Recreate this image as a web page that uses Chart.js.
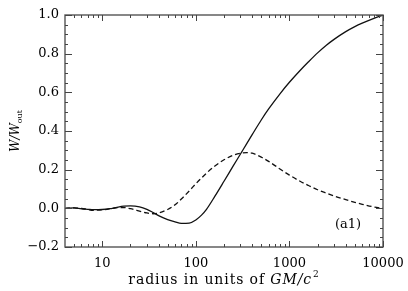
<!DOCTYPE html>
<html>
<head>
<meta charset="utf-8">
<script src="https://cdn.jsdelivr.net/npm/chart.js@4"></script>
<style>
html,body{margin:0;padding:0;background:#fff;}
#c{display:block;}
</style>
</head>
<body>
<canvas id="c" width="408" height="291"></canvas>
<script>
// Radius values (units of GM/c^2)
const radius = [4,5,6,7,8,10,12,14,17,20,25,30,35,40,50,60,70,85,100,115,130,160,200,250,300,350,400,500,600,800,1000,1300,1600,2000,2500,3000,4000,5000,6000,8000,10000];
// Solid curve W/W_out
const solidW = [0.0,0.002,-0.003,-0.005,-0.007,-0.006,-0.002,0.004,0.011,0.013,0.008,-0.005,-0.022,-0.038,-0.058,-0.07,-0.078,-0.076,-0.06,-0.035,-0.005,0.063,0.14,0.218,0.281,0.335,0.381,0.457,0.514,0.595,0.652,0.713,0.758,0.804,0.845,0.874,0.914,0.94,0.958,0.983,1.0];
// Dashed curve W/W_out
const dashedW = [0.0,0.002,0.0,-0.006,-0.01,-0.008,-0.003,0.003,0.004,-0.002,-0.014,-0.024,-0.028,-0.024,-0.006,0.018,0.048,0.09,0.127,0.157,0.182,0.219,0.251,0.274,0.285,0.288,0.285,0.265,0.243,0.202,0.172,0.14,0.118,0.096,0.078,0.064,0.045,0.031,0.021,0.007,0.0];
// Tick values
const xTickValues = [10,100,1000,10000];
const yTickValues = [-0.2,0,0.2,0.4,0.6,0.8,1.0];
const xMinorTicks = [5,6,7,8,9,20,30,40,50,60,70,80,90,200,300,400,500,600,700,800,900,2000,3000,4000,5000,6000,7000,8000,9000];
const yMinorTicks = [-0.15,-0.1,-0.05,0.05,0.1,0.15,0.25,0.3,0.35,0.45,0.5,0.55,0.65,0.7,0.75,0.85,0.9,0.95];
const panelLabel = '(a1)';

const FONT = '"DejaVu Serif", "Liberation Serif", serif';
const INK = '#000';

const framePlugin = {
  id: 'frame',
  afterDraw(chart) {
    const ctx = chart.ctx;
    const a = chart.chartArea;
    const xs = chart.scales.x, ys = chart.scales.y;
    ctx.save();
    ctx.strokeStyle = '#555';
    ctx.lineWidth = 1.4;
    ctx.strokeRect(a.left, a.top, a.right - a.left, a.bottom - a.top);
    ctx.lineWidth = 1;
    ctx.strokeStyle = '#444';
    const tick = (x1,y1,x2,y2) => { ctx.beginPath(); ctx.moveTo(x1,y1); ctx.lineTo(x2,y2); ctx.stroke(); };
    xTickValues.forEach(v => { const p = Math.round(xs.getPixelForValue(v))+0.5; tick(p,a.bottom,p,a.bottom-6); tick(p,a.top,p,a.top+6); });
    xMinorTicks.forEach(v => { const p = Math.round(xs.getPixelForValue(v))+0.5; tick(p,a.bottom,p,a.bottom-3); tick(p,a.top,p,a.top+3); });
    yTickValues.forEach(v => { const p = Math.round(ys.getPixelForValue(v))+0.5; tick(a.left,p,a.left+7,p); tick(a.right,p,a.right-7,p); });
    yMinorTicks.forEach(v => { const p = Math.round(ys.getPixelForValue(v))+0.5; tick(a.left,p,a.left+3,p); tick(a.right,p,a.right-3,p); });

    // panel label
    ctx.fillStyle = INK;
    ctx.font = '13px ' + FONT;
    ctx.textAlign = 'center';
    ctx.textBaseline = 'middle';
    ctx.fillText(panelLabel, 348, 225);

    // x title: radius in units of GM/c^2
    const cx = (a.left + a.right) / 2;
    const p1 = 'radius in units of ';
    const p2 = 'GM/c';
    const p3 = '2';
    ctx.textAlign = 'left';
    ctx.textBaseline = 'alphabetic';
    try { ctx.letterSpacing = '0.9px'; } catch (e) {}
    ctx.font = '14px ' + FONT;
    const w1 = ctx.measureText(p1).width;
    ctx.font = 'italic 14px ' + FONT;
    const w2 = ctx.measureText(p2).width;
    ctx.font = '9px ' + FONT;
    const w3 = ctx.measureText(p3).width;
    let x0 = cx - (w1 + w2 + w3 + 1) / 2;
    const base = 284;
    ctx.font = '14px ' + FONT;
    ctx.fillText(p1, x0, base);
    ctx.font = 'italic 14px ' + FONT;
    ctx.fillText(p2, x0 + w1, base);
    ctx.font = '9px ' + FONT;
    ctx.fillText(p3, x0 + w1 + w2 + 1, base - 7);
    try { ctx.letterSpacing = '0px'; } catch (e) {}

    // y title: W/W_out (rotated)
    ctx.translate(15, (a.top + a.bottom) / 2);
    ctx.rotate(-Math.PI / 2);
    ctx.font = 'italic 12px ' + FONT;
    const q1 = 'W/W';
    const wq1 = ctx.measureText(q1).width;
    ctx.font = '8px ' + FONT;
    const wq2 = ctx.measureText('out').width;
    const sx = -(wq1 + wq2) / 2;
    ctx.font = 'italic 12px ' + FONT;
    ctx.fillText(q1, sx, 4);
    ctx.font = '8px ' + FONT;
    ctx.fillText('out', sx + wq1, 7);
    ctx.restore();
  }
};

new Chart(document.getElementById('c'), {
  type: 'line',
  data: {
    datasets: [
      { data: radius.map((r,i) => ({x:r, y:solidW[i]})), borderColor: '#111', borderWidth: 1.3, pointRadius: 0, cubicInterpolationMode: 'monotone', fill: false },
      { data: radius.map((r,i) => ({x:r, y:dashedW[i]})), borderColor: '#111', borderWidth: 1.3, borderDash: [5,3], pointRadius: 0, cubicInterpolationMode: 'monotone', fill: false }
    ]
  },
  options: {
    responsive: false,
    animation: false,
    devicePixelRatio: 1,
    layout: { padding: { top: 15, right: 25, left: 0, bottom: 0 } },
    plugins: { legend: { display: false }, tooltip: { enabled: false } },
    scales: {
      x: {
        type: 'logarithmic', min: 4, max: 10000,
        grid: { display: false, drawTicks: false },
        border: { display: false },
        ticks: { color: INK, font: { family: FONT, size: 13 }, padding: 9, maxRotation: 0, autoSkip: false,
          callback: v => xTickValues.includes(v) ? String(v) : '' },
        afterBuildTicks: s => { s.ticks = xTickValues.map(v => ({ value: v })); },
        afterFit: s => { s.height = 44; s.paddingLeft = 0; s.paddingRight = 0; }
      },
      y: {
        type: 'linear', min: -0.2, max: 1.0,
        grid: { display: false, drawTicks: false },
        border: { display: false },
        ticks: { color: INK, font: { family: FONT, size: 13 }, padding: 6,
          callback: v => (v < -1e-9 ? '\u2212' : '') + Math.abs(v).toFixed(1) },
        afterBuildTicks: s => { s.ticks = yTickValues.map(v => ({ value: v })); },
        afterFit: s => { s.width = 65; s.paddingTop = 0; s.paddingBottom = 0; }
      }
    }
  },
  plugins: [framePlugin]
});
</script>
</body>
</html>
